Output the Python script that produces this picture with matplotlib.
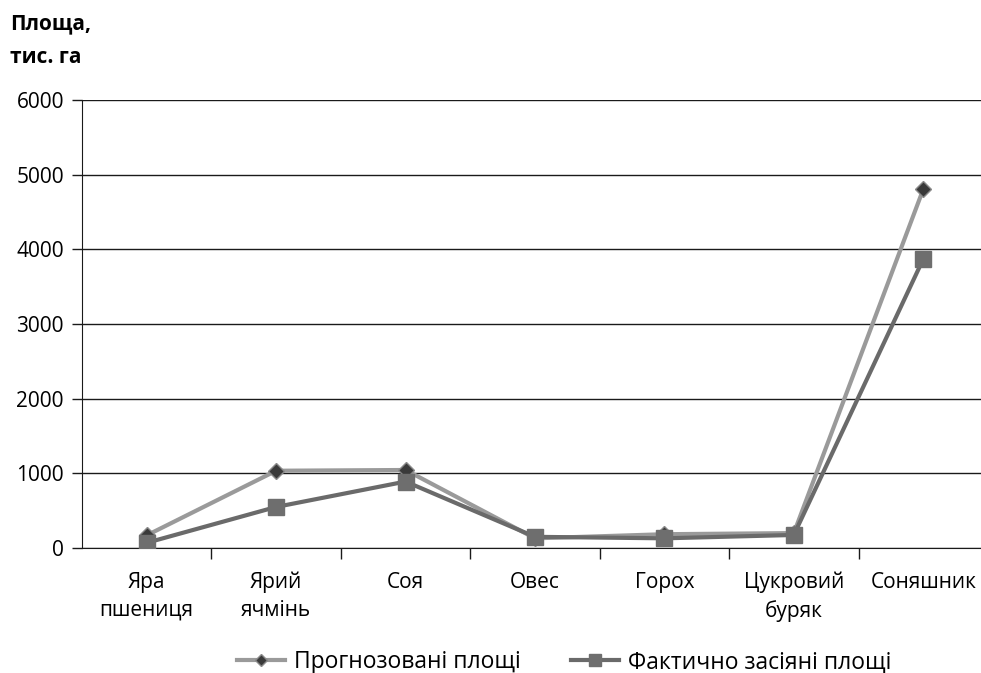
import matplotlib.pyplot as plt
import numpy as np

plt.rcParams['font.family'] = ['Open Sans', 'DejaVu Sans']

categories = ['Яра\nпшениця', 'Ярий\nячмінь', 'Соя', 'Овес', 'Горох', 'Цукровий\nбуряк', 'Соняшник']
forecast = [170, 1035, 1045, 130, 185, 200, 4805]
actual = [70, 550, 890, 150, 130, 175, 3870]
yticks = [0, 1000, 2000, 3000, 4000, 5000, 6000]

fig = plt.figure(figsize=(9.81, 6.73), dpi=100)
ax = fig.add_axes([0.0836, 0.1857, 0.9235, 0.6657])

x = np.arange(len(categories))
ax.plot(x, forecast, color='#9a9a9a', linewidth=3, marker='D', markersize=8,
        markerfacecolor='#3a3a3a', markeredgecolor='#8a8a8a', markeredgewidth=1,
        label='Прогнозовані площі', zorder=3)
ax.plot(x, actual, color='#6a6a6a', linewidth=3, marker='s', markersize=11,
        markerfacecolor='#6e6e6e', markeredgecolor='#6e6e6e',
        label='Фактично засіяні площі', zorder=4)

ax.set_xlim(-0.5, len(categories) - 0.5)
ax.set_ylim(0, 6000)
ax.set_yticks(yticks)
ax.set_yticklabels([str(v) for v in yticks], fontsize=15)
ax.yaxis.grid(True, color='#1a1a1a', linewidth=1)
ax.set_axisbelow(True)

ax.set_xticks(x)
ax.set_xticklabels(categories, fontsize=15, linespacing=1.4)
ax.set_xticks(np.arange(0.5, len(categories) - 0.5), minor=True)
ax.tick_params(axis='x', which='major', length=0, pad=17)
ax.tick_params(axis='x', which='minor', length=8, width=1, color='#1a1a1a', direction='out')
ax.tick_params(axis='y', length=7, width=1, color='#1a1a1a', pad=6)

ax.spines['top'].set_visible(False)
ax.spines['right'].set_visible(False)
ax.spines['left'].set_color('#1a1a1a')
ax.spines['bottom'].set_color('#1a1a1a')

fig.text(0.010, 0.965, 'Площа,', fontsize=15, fontweight='bold', va='center')
fig.text(0.010, 0.914, 'тис. га', fontsize=15, fontweight='bold', va='center')

fig.legend(loc='center', bbox_to_anchor=(0.575, 0.016), ncol=2, frameon=False,
           fontsize=16.5, handlelength=2.1, columnspacing=2.2, handletextpad=0.4,
           markerscale=0.8)

plt.savefig('out.png', dpi=100)
